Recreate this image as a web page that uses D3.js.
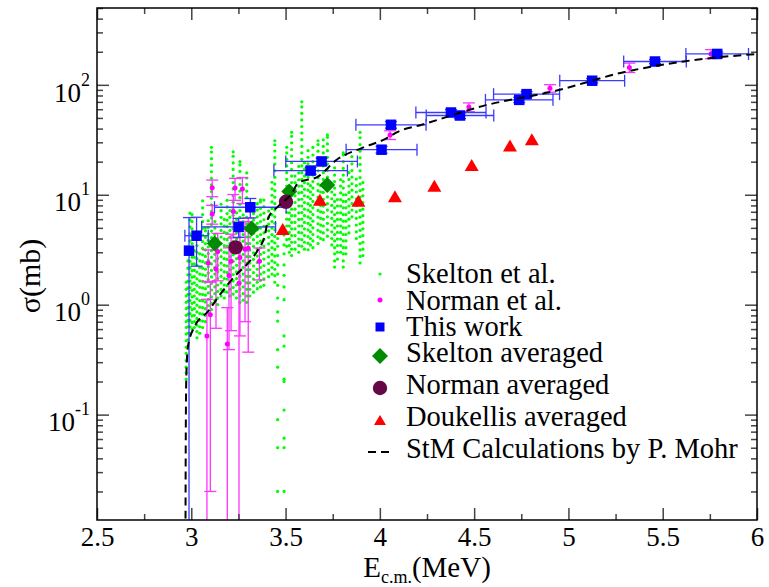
<!DOCTYPE html>
<html lang="en">
<head>
<meta charset="UTF-8">
<title>Cross section vs E c.m.</title>
<script src="https://d3js.org/d3.v7.min.js"></script>
<style>
  body { margin: 0; background: #fff; }
  svg { display: block; background: #fff; }
  text { font-family: "Liberation Serif", "DejaVu Serif", "Times New Roman", serif; fill: #000; }
</style>
</head>
<body>
<svg width="769" height="587"></svg>
<script>
// ---------- data ----------
const xTicks = [2.5, 3, 3.5, 4, 4.5, 5, 5.5, 6];
const xMinor = [2.75, 3.25, 3.75, 4.25, 4.75, 5.25, 5.75];
const yTickExp = [-1, 0, 1, 2];

// Skelton et al. excitation function: [E, list of sigma values] per resonance streak
const skeltonCols = [
  [2.973, [0.21,0.24,0.27,0.31,0.36,0.41,0.47,0.54,0.62,0.7,0.8,0.92,1.05,1.2,1.38,1.6]],
  [2.982, [0.42,0.48,0.55,0.63,0.72,0.82,0.94,1.08,1.24,1.42,1.63,1.87,2.15,2.5,2.9]],
  [2.993, [0.55,0.63,0.72,0.83,0.95,1.09,1.25,1.43,1.64,1.88,2.16,2.48,2.85,3.3,3.8,4.4,5.1,5.9,6.8]],
  [3.004, [0.6,0.69,0.79,0.9,1.03,1.18,1.35,1.55,1.78,2.04,2.34,2.7,3.1,3.6,4.2,4.9,5.7,6.6]],
  [3.016, [0.62,0.7,0.8,0.92,1.05,1.2,1.38,1.58,1.8,2.05,2.35,2.7,3.1]],
  [3.03, [0.5,0.57,0.65,0.75,0.86,0.99,1.13,1.3,1.5,1.72,1.98,2.28,2.62,3.0,3.45,3.95]],
  [3.045, [0.55,0.63,0.72,0.83,0.95,1.09,1.25,1.44,1.65,1.9,2.18,2.5,2.9]],
  [3.06, [0.62,0.71,0.82,0.94,1.08,1.24,1.42,1.63,1.87,2.15,2.47,2.84,3.25,3.75,4.3,4.95,5.7,6.6,7.6,8.8]],
  [3.075, [0.7,0.8,0.92,1.06,1.22,1.4,1.6,1.84,2.1,2.4,2.75,3.15,3.6,4.1,4.7,5.0]],
  [3.09, [0.85,0.98,1.12,1.28,1.47,1.69,1.94,2.22,2.55,2.92,3.35,3.85,4.4,5.05,5.8]],
  [3.107, [0.9,1.03,1.18,1.36,1.56,1.79,2.05,2.35,2.7,3.1,3.55,4.07,4.67,5.36,6.15,7.05,8.1,9.3,10.7,12.3,14.1,16.2,18.6,21.3,24.5,27]],
  [3.125, [1.1,1.26,1.45,1.66,1.9,2.18,2.5,2.87,3.3,3.78,4.34,4.98,5.7]],
  [3.14, [1.0,1.15,1.32,1.51,1.73,1.99,2.28,2.62,3.0,3.45,3.95]],
  [3.158, [1.2,1.38,1.58,1.81,2.08,2.39,2.74,3.14,3.6,4.13,4.74,5.44,6.24,7.16,8.2]],
  [3.175, [1.15,1.32,1.51,1.73,1.99,2.28,2.62,3.0,3.45,3.95,4.54,5.2,5.97]],
  [3.19, [1.3,1.49,1.71,1.96,2.25,2.58,2.96,3.4,3.9,4.47,5.13,5.89,6.75,7.75,8.9]],
  [3.205, [1.2,1.38,1.58,1.81,2.08,2.39,2.74,3.14,3.6,4.13,4.74,5.44,6.24,7.16]],
  [3.222, [1.25,1.43,1.64,1.88,2.16,2.48,2.85,3.27,3.75,4.3,4.93,5.66,6.5,7.46,8.56,9.82,11.3,12.9,14.8,17,19.5,22.4,24.6]],
  [3.24, [1.15,1.32,1.51,1.73,1.99,2.28,2.62,3.0,3.45,3.95,4.54,5.2,5.97,6.85]],
  [3.258, [1.05,1.2,1.38,1.58,1.81,2.08,2.39,2.74,3.14,3.6,4.13,4.74,5.44,6.24,7.16,8.2,9.4,10.8,12.4,14.2,16.3,18.7,20]],
  [3.275, [1.1,1.26,1.45,1.66,1.9,2.18,2.5,2.87,3.3,3.78,4.34,4.98,5.7,6.55]],
  [3.294, [1.05,1.2,1.38,1.58,1.81,2.08,2.39,2.74,3.14,3.6,4.13,4.74,5.44,6.24,7.16,8.2,9.4,10.8,12.4,14.2,15.8]],
  [3.31, [1.2,1.38,1.58,1.81,2.08,2.39,2.74,3.14,3.6,4.13,4.74,5.44]],
  [3.33, [1.3,1.49,1.71,1.96,2.25,2.58,2.96,3.4,3.9,4.47,5.13,5.89,6.75]],
  [3.35, [1.4,1.6,1.84,2.1,2.42,2.77,3.18,3.65,4.18,4.8,5.5,6.3,7.25,8.3]],
  [3.367, [1.45,1.66,1.9,2.18,2.5,2.87,3.3,3.78,4.34,4.98,5.7,6.55,7.5,8.6,9.0]],
  [3.385, [1.5,1.72,1.97,2.26,2.6,2.98,3.42,3.92,4.5,5.16,5.92,6.8,7.8,8.95]],
  [3.41, [1.8,2.06,2.37,2.72,3.12,3.58,4.1,4.7,5.4,6.2,7.1]],
  [3.428, [1.9,2.18,2.5,2.87,3.3,3.78,4.34,4.98,5.7,6.55,7.5,8.6,9.9,11.3,13]],
  [3.443, [1.6,1.84,2.1,2.42,2.77,3.18,3.65,4.18,4.8,5.5,6.3,7.25,8.3,9.5,10.9,12.5,14.4,16.5,19,21.8,25,28.5,31]],
  [3.458, [0.02,0.05,0.09,0.27,0.39,0.71,0.86,1.15,1.5,1.9,2.3,2.8,3.4,4.0]],
  [3.492, [0.02,0.05,0.061,0.11,0.2,0.21,0.42,0.52,1.11,1.45,1.85,2.3,2.9,3.5,4.3]],
  [3.506, [3.4,3.9,4.5,5.2,6.0,6.9,7.9,9.1,10.5,12,13.8,15.9,18.3,21,24,27]],
  [3.52, [3.0,3.45,3.95,4.54,5.2,5.97,6.85,7.9,9.05,10.4,12]],
  [3.532, [2.8,3.2,3.7,4.25,4.9,5.6,6.45,7.4,8.5,9.8,11.2,12.9,14.8,17,19.6,22.5,25.8,29.7,34,37]],
  [3.55, [3.2,3.7,4.25,4.9,5.6,6.45,7.4,8.5,9.8,11.2,12.9,14.8]],
  [3.57, [3.0,3.45,3.95,4.54,5.2,5.97,6.85,7.9,9.05,10.4,12,13.7,15.8,18.1]],
  [3.586, [3.4,3.9,4.5,5.2,6.0,6.9,7.9,9.1,10.5,12,13.8,15.9,18.3,21,24,27.6,31.7,36.4,41.8,48,55,63,70]],
  [3.6, [3.2,3.7,4.25,4.9,5.6,6.45,7.4,8.5,9.8,11.2,12.9,14.8,17,19.6]],
  [3.619, [3.16,3.63,4.17,4.79,5.5,6.3,7.25,8.3,9.55,11,12.6,14.5,16.6,19.1,21.9,25.2]],
  [3.632, [3.5,4.0,4.6,5.3,6.1,7.0,8.0,9.2,10.6,12.1]],
  [3.645, [3.3,3.8,4.35,5.0,5.75,6.6,7.6,8.7,10,11.5,13.2,15.1,17.4,20,23,27]],
  [3.672, [3.6,4.15,4.75,5.45,6.25,7.2,8.25,9.5,10.9,12.5,14.3,16.5,18.9,21.7,24.9,28.6,31]],
  [3.686, [4.0,4.6,5.3,6.1,7.0,8.0,9.2,10.6,12.1]],
  [3.70, [3.9,4.5,5.2,6.0,6.9,7.9,9.1,10.5,12,13.8,15.9,18.3,21,24,27.6,31.6]],
  [3.722, [4.2,4.8,5.5,6.3,7.25,8.3,9.55,11,12.6,14.5,16.6,19.1,21.9,25.2,29,33.3,35]],
  [3.745, [3.5,4.0,4.6,5.3,6.1,7.0,8.0,9.2,10.6]],
  [3.76, [2.2,2.5,2.9,3.3,3.8,4.35,5.0,5.75,6.6,7.6,8.7,10,11.5,13.2,15.1,17.6]],
  [3.775, [2.6,3.0,3.45,3.95,4.54,5.2,5.97,6.85,7.9,9.05]],
  [3.792, [3.0,3.45,3.95,4.54,5.2,5.97,6.85,7.9,9.05,10.4,12,13.7]],
  [3.806, [2.2,2.5,2.9,3.3,3.8,4.35,5.0,5.75,6.6,7.6,8.7,10,11.5,13.2,15.1,17.4,20,23,24]],
  [3.82, [2.9,3.3,3.8,4.35,5.0,5.75,6.6,7.6,8.7,10]],
  [3.836, [4.5,5.2,6.0,6.9,7.9,9.1,10.5,12,13.8,15.9]],
  [3.852, [6.3,7.25,8.3,9.55,11,12.6,14.5,16.6,19.1,22.2]],
  [3.875, [4.0,4.6,5.3,6.1,7.0,8.0,9.2,10.6,12.1,13.9]],
  [3.895, [2.4,2.75,3.15,3.6,4.15,4.75,5.45,6.25,7.2,8.25,9.5,10.9,12.5,14.3,16.5,18.9,21.7,24.9,28.6,33,37]],
  [3.91, [2.8,3.2,3.7,4.25,4.9,5.6,6.45,7.4,8.5,9.8,11.2,12.9]]
];

// Norman et al. (magenta), sigma with symmetric error
const normanE = [3.083, 3.09, 3.101, 3.111, 3.111, 3.131, 3.14, 3.191, 3.2, 3.211, 3.223, 3.232, 3.253, 3.258, 3.271, 3.285, 3.302, 3.361, 4.054, 4.472, 4.902, 5.323, 5.756];
const normanS = [0.52, 2.39, 0.81, 11.6, 6.7, 2.11, 3.05, 0.44, 1.84, 2.48, 7.05, 11.5, 1.57, 2.69, 11.3, 3.2, 3.27, 2.48, 35, 62.7, 93, 143.6, 191];
const normanD = [0.6, 0.76, 0.79, 2.0, 1.3, 1.5, 1.4, 0.5, 1.45, 1.9, 3.0, 2.6, 1.7, 2.17, 3.0, 2.5, 2.9, 0.8, 3.2, 5.8, 7.3, 14, 18];

// This work (blue squares), with energy and sigma errors
const workE  = [2.988, 3.028, 3.251, 3.313, 3.633, 3.691, 4.009, 4.059, 4.377, 4.425, 4.739, 4.778, 5.126, 5.459, 5.789];
const workS  = [3.1, 4.24, 5.1, 7.7, 16.6, 20.1, 25.7, 43.3, 56, 52.6, 73, 82.3, 109, 163, 191];
const workDE = [0, 0.062, 0.196, 0.19, 0.195, 0.19, 0.188, 0.186, 0.186, 0.179, 0.179, 0.175, 0.172, 0.166, 0.166];
const workDS = [3.1, 2.0, 1.0, 1.55, 1.2, 1.5, 1.8, 3, 3.5, 3.3, 4, 4.5, 5, 7, 8];

// averaged data sets
const skAvgE = [3.124, 3.320, 3.52, 3.721];
const skAvgS = [3.6, 4.94, 10.7, 12.3];
const noAvgE = [3.235, 3.502];
const noAvgS = [3.32, 8.63];
const douE = [3.485, 3.682, 3.886, 4.08, 4.289, 4.487, 4.69, 4.806];
const douS = [4.88, 9.0, 8.8, 9.67, 12.1, 18.7, 28, 32];

// StM calculation (P. Mohr)
const stmE = [2.969, 2.9705, 2.9735, 2.9826, 3.018, 3.0886, 3.159, 3.230, 3.301, 3.354, 3.391, 3.408, 3.461, 3.533, 3.567, 3.674, 3.771, 3.904, 4.027, 4.098, 4.222, 4.549, 4.938, 5.282, 5.609, 6.0];
const stmS = [0.005, 0.05, 0.217, 0.418, 0.635, 0.869, 1.28, 1.81, 2.39, 3.16, 4.33, 6.14, 7.84, 10.3, 12.8, 14.7, 20.8, 26.6, 32.1, 37.6, 43.3, 64.4, 88.7, 129, 163, 191];

const legendLabels = ["Skelton et al.", "Norman et al.", "This work", "Skelton averaged",
                      "Norman averaged", "Doukellis averaged", "StM Calculations by P. Mohr"];

// ---------- layout ----------
const plot = { left: 97, right: 757, top: 8, bottom: 520 };
const svg = d3.select("svg");
const serif = "'Liberation Serif', 'DejaVu Serif', serif";

const x = d3.scaleLinear().domain([2.5, 6]).range([plot.left, plot.right]);
const y = d3.scaleLog().domain([0.011, 500]).range([plot.bottom, plot.top]);

const colors = {
  skelton: "#00ff00", norman: "#ff00ff", work: "#0000ff",
  skAvg: "#008b00", noAvg: "#670748", dou: "#ff0000"
};

svg.append("defs").append("clipPath").attr("id", "clip")
  .append("rect")
  .attr("x", plot.left).attr("y", plot.top)
  .attr("width", plot.right - plot.left).attr("height", plot.bottom - plot.top);

const data = svg.append("g").attr("clip-path", "url(#clip)");

// safe y for error bars going below the axis
const yc = v => v <= 0.011 ? plot.bottom + 5 : y(v);

// Skelton et al. dots
const skeltonPts = skeltonCols.flatMap(([e, list]) => list.map(s => [e, s]));
data.append("g").selectAll("circle").data(skeltonPts).join("circle")
  .attr("cx", d => x(d[0])).attr("cy", d => y(d[1])).attr("r", 1.6)
  .attr("fill", colors.skelton);

// Norman et al.
const norman = normanE.map((e, i) => ({ e, s: normanS[i], d: normanD[i] }));
const gN = data.append("g").attr("stroke", "#ff33ff").attr("stroke-width", 1.3);
norman.forEach(p => {
  const lo = p.s - p.d, hi = p.s + p.d;
  gN.append("line").attr("x1", x(p.e)).attr("x2", x(p.e)).attr("y1", yc(lo)).attr("y2", y(hi));
  gN.append("line").attr("x1", x(p.e) - 6).attr("x2", x(p.e) + 6).attr("y1", y(hi)).attr("y2", y(hi));
  if (lo > 0.011) gN.append("line").attr("x1", x(p.e) - 6).attr("x2", x(p.e) + 6).attr("y1", y(lo)).attr("y2", y(lo));
});
data.append("g").selectAll("circle").data(norman).join("circle")
  .attr("cx", d => x(d.e)).attr("cy", d => y(d.s)).attr("r", 2.5)
  .attr("fill", colors.norman);

// This work
const work = workE.map((e, i) => ({ e, s: workS[i], de: workDE[i], ds: workDS[i] }));
const gW = data.append("g").attr("stroke", "#3a3aff").attr("stroke-width", 1.3);
work.forEach(p => {
  const cx = x(p.e), cy = y(p.s);
  if (p.de > 0) {
    const x0 = x(p.e - p.de), x1 = x(p.e + p.de);
    gW.append("line").attr("x1", x0).attr("x2", x1).attr("y1", cy).attr("y2", cy);
    gW.append("line").attr("x1", x0).attr("x2", x0).attr("y1", cy - 6).attr("y2", cy + 6);
    gW.append("line").attr("x1", x1).attr("x2", x1).attr("y1", cy - 6).attr("y2", cy + 6);
  }
  const lo = p.s - p.ds, hi = p.s + p.ds;
  gW.append("line").attr("x1", cx).attr("x2", cx).attr("y1", yc(lo)).attr("y2", y(hi));
  gW.append("line").attr("x1", cx - 6).attr("x2", cx + 6).attr("y1", y(hi)).attr("y2", y(hi));
  if (lo > 0.011) gW.append("line").attr("x1", cx - 6).attr("x2", cx + 6).attr("y1", y(lo)).attr("y2", y(lo));
});

const sq = 10.5;
data.append("g").selectAll("rect").data(work).join("rect")
  .attr("x", d => x(d.e) - sq / 2).attr("y", d => y(d.s) - sq / 2)
  .attr("width", sq).attr("height", sq).attr("fill", colors.work);

// marker shapes
const diamond = r => `M0,${-r}L${r},0L0,${r}L${-r},0Z`;
const triangle = (w, h) => `M0,${-h / 2}L${w / 2},${h / 2}L${-w / 2},${h / 2}Z`;

data.append("g").selectAll("path").data(skAvgE.map((e, i) => [e, skAvgS[i]])).join("path")
  .attr("transform", d => `translate(${x(d[0])},${y(d[1])})`)
  .attr("d", diamond(8)).attr("fill", colors.skAvg);

data.append("g").selectAll("circle").data(noAvgE.map((e, i) => [e, noAvgS[i]])).join("circle")
  .attr("cx", d => x(d[0])).attr("cy", d => y(d[1])).attr("r", 7.2)
  .attr("fill", colors.noAvg);

data.append("g").selectAll("path").data(douE.map((e, i) => [e, douS[i]])).join("path")
  .attr("transform", d => `translate(${x(d[0])},${y(d[1])})`)
  .attr("d", triangle(14, 12)).attr("fill", colors.dou);

// StM curve
const line = d3.line().x(d => x(d[0])).y(d => y(d[1])).curve(d3.curveMonotoneX);
data.append("path").datum(stmE.map((e, i) => [e, stmS[i]]))
  .attr("d", line).attr("fill", "none")
  .attr("stroke", "#000").attr("stroke-width", 2).attr("stroke-dasharray", "8,5");

// ---------- axes ----------
const tickStyle = g => {
  g.select(".domain").remove();
  g.attr("font-family", serif);
  g.selectAll(".tick line").attr("stroke", "#444").attr("stroke-width", 1.5);
};
const yMinor = y.ticks().filter(v => Math.abs(Math.log10(v) - Math.round(Math.log10(v))) > 1e-6);
const yMajor = yTickExp.map(p => Math.pow(10, p));

svg.append("g").attr("transform", `translate(0,${plot.bottom})`)
  .call(d3.axisBottom(x).tickValues(xTicks).tickSize(-12).tickPadding(7).tickFormat(d3.format("")))
  .call(tickStyle)
  .call(g => g.selectAll(".tick text").attr("font-size", 27).attr("fill", "#000"));
svg.append("g").attr("transform", `translate(0,${plot.bottom})`)
  .call(d3.axisBottom(x).tickValues(xMinor).tickSize(-6).tickFormat(""))
  .call(tickStyle);
svg.append("g").attr("transform", `translate(0,${plot.top})`)
  .call(d3.axisTop(x).tickValues(xTicks).tickSize(-12).tickFormat(""))
  .call(tickStyle);
svg.append("g").attr("transform", `translate(0,${plot.top})`)
  .call(d3.axisTop(x).tickValues(xMinor).tickSize(-6).tickFormat(""))
  .call(tickStyle);

svg.append("g").attr("transform", `translate(${plot.left},0)`)
  .call(d3.axisLeft(y).tickValues(yMajor).tickSize(-12).tickPadding(7).tickFormat(""))
  .call(tickStyle)
  .call(g => g.selectAll(".tick text").each(function(d) {
    const t = d3.select(this)
      .attr("font-size", 27).attr("fill", "#000")
      .attr("dy", "0.6em");
    t.append("tspan").text("10");
    t.append("tspan").attr("font-size", 18).attr("dy", -16).text(String(Math.round(Math.log10(d))));
  }));
svg.append("g").attr("transform", `translate(${plot.left},0)`)
  .call(d3.axisLeft(y).tickValues(yMinor).tickSize(-6).tickFormat(""))
  .call(tickStyle);
svg.append("g").attr("transform", `translate(${plot.right},0)`)
  .call(d3.axisRight(y).tickValues(yMajor).tickSize(-12).tickFormat(""))
  .call(tickStyle);
svg.append("g").attr("transform", `translate(${plot.right},0)`)
  .call(d3.axisRight(y).tickValues(yMinor).tickSize(-6).tickFormat(""))
  .call(tickStyle);

// frame
svg.append("rect")
  .attr("x", plot.left).attr("y", plot.top)
  .attr("width", plot.right - plot.left).attr("height", plot.bottom - plot.top)
  .attr("fill", "none").attr("stroke", "#000").attr("stroke-width", 1.5);

// axis titles
const xt = svg.append("text").attr("x", (plot.left + plot.right) / 2).attr("y", 577)
  .attr("text-anchor", "middle").attr("font-size", 29).attr("font-family", serif);
xt.append("tspan").text("E");
xt.append("tspan").attr("font-size", 18).attr("dy", 6).text("c.m.");
xt.append("tspan").attr("dy", -6).text("(MeV)");

svg.append("text").attr("transform", "translate(40,276) rotate(-90)")
  .attr("text-anchor", "middle").attr("font-size", 30).attr("font-family", serif).text("σ(mb)");

// ---------- legend ----------
const legX = 380, legTextX = 406;
const legSymY = [274, 300, 327, 356, 388, 420, 452];
const legTextY = [283, 310, 336, 362, 394, 426, 458];
const leg = svg.append("g");
leg.append("circle").attr("cx", legX).attr("cy", legSymY[0]).attr("r", 1.6).attr("fill", colors.skelton);
leg.append("circle").attr("cx", legX).attr("cy", legSymY[1]).attr("r", 2.5).attr("fill", colors.norman);
leg.append("rect").attr("x", legX - 4.5).attr("y", legSymY[2] - 4.5).attr("width", 9).attr("height", 9).attr("fill", colors.work);
leg.append("path").attr("transform", `translate(${legX},${legSymY[3]})`).attr("d", diamond(8)).attr("fill", colors.skAvg);
leg.append("circle").attr("cx", legX).attr("cy", legSymY[4]).attr("r", 7.2).attr("fill", colors.noAvg);
leg.append("path").attr("transform", `translate(${legX},${legSymY[5]})`).attr("d", triangle(12, 10)).attr("fill", colors.dou);
leg.append("line").attr("x1", legX - 12).attr("x2", legX + 12).attr("y1", legSymY[6]).attr("y2", legSymY[6])
  .attr("stroke", "#000").attr("stroke-width", 2).attr("stroke-dasharray", "8,5");
leg.selectAll("text").data(legendLabels).join("text")
  .attr("x", legTextX).attr("y", (d, i) => legTextY[i])
  .attr("font-size", 28.5).attr("font-family", serif).text(d => d);
</script>
</body>
</html>
